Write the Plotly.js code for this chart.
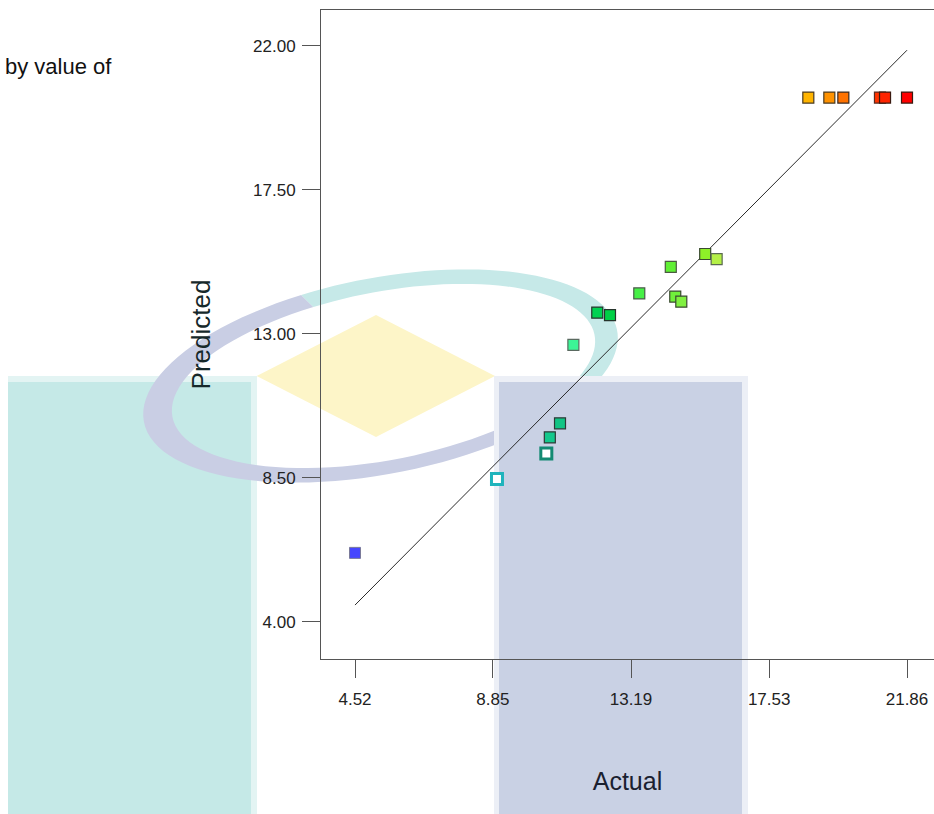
<!DOCTYPE html>
<html>
<head>
<meta charset="utf-8">
<script src="https://cdn.plot.ly/plotly-3.0.1.min.js"></script>
<style>
  html, body { margin: 0; padding: 0; background: #ffffff; }
  #chart { width: 934px; height: 814px; }
</style>
</head>
<body>
<div id="chart"></div>
<script>
// Predicted vs. actual response, points coloured by actual value
const actual    = [4.52, 8.98, 10.53, 10.64, 10.96, 11.38, 12.13, 12.53, 13.45, 14.44,
                   14.58, 14.77, 15.52, 15.88, 18.76, 19.42, 19.86, 21.01, 21.17, 21.86];
const predicted = [6.15, 8.46, 9.26, 9.76, 10.20, 12.65, 13.66, 13.58, 14.26, 15.09,
                   14.16, 14.00, 15.49, 15.33, 20.38, 20.38, 20.38, 20.38, 20.38, 20.38];
const pointFill = ['#4646ff', '#ffffff', '#ffffff', '#14c88c', '#12c484', '#3cf596',
                   '#00d252', '#00d046', '#46f046', '#60f034', '#70f03a', '#80f040',
                   '#8ef028', '#b4f046', '#ffb400', '#ff9200', '#ff7200', '#ff3400',
                   '#ff2400', '#ff0000'];
const pointEdge = ['#7a7a9a', '#1fb4bc', '#138a72', '#2d3a36', '#2d3a36', '#5a6a60',
                   '#26342c', '#26342c', '#4a5a4a', '#4a5a40', '#3a4a30', '#3a4a30',
                   '#3a4a30', '#5a6a50', '#4a3a20', '#4a3a20', '#3a2a20', '#5a2a20',
                   '#3a1a10', '#3a1a10'];
const pointEdgeWidth = [1, 3, 3, 1.2, 1.2, 1.2, 1.2, 1.2, 1.2, 1.2,
                        1.2, 1.2, 1.2, 1.2, 1.2, 1.2, 1.2, 1.2, 1.2, 1.2];

const xTicks = [4.52, 8.85, 13.19, 17.53, 21.86];
const yTicks = [4.00, 8.50, 13.00, 17.50, 22.00];

// page layout in pixels
const W = 934, H = 814;
const M = { l: 321, r: 0, t: 10, b: 155 };
const plotW = W - M.l - M.r, plotH = H - M.t - M.b;
const px = v => (v - M.l) / plotW;          // page x -> paper x
const py = v => (H - M.b - v) / plotH;      // page y -> paper y

// background emblem: two panels, a diamond and an elliptical swoosh
function rectShape(x0, y0, x1, y1, color) {
  return { type: 'rect', xref: 'paper', yref: 'paper', layer: 'below',
           x0: px(x0), x1: px(x1), y0: py(y1), y1: py(y0),
           fillcolor: color, line: { width: 0 } };
}
function pathShape(pts, color) {
  const d = pts.map((p, i) => (i ? 'L' : 'M') + px(p[0]).toFixed(5) + ',' + py(p[1]).toFixed(5)).join(' ') + ' Z';
  return { type: 'path', xref: 'paper', yref: 'paper', layer: 'below',
           path: d, fillcolor: color, line: { width: 0 } };
}
function ringArc(t0, t1, color) {
  const rot = -11 * Math.PI / 180;
  const outer = { cx: 380.5, cy: 376, a: 241, b: 98 };
  const inner = { cx: 383.5, cy: 376, a: 215, b: 84 };
  const pt = (e, t) => [
    e.cx + e.a * Math.cos(t) * Math.cos(rot) - e.b * Math.sin(t) * Math.sin(rot),
    e.cy + e.a * Math.cos(t) * Math.sin(rot) + e.b * Math.sin(t) * Math.cos(rot)
  ];
  const n = 60, pts = [];
  for (let i = 0; i <= n; i++) pts.push(pt(outer, t0 + (t1 - t0) * i / n));
  for (let i = n; i >= 0; i--) pts.push(pt(inner, t0 + (t1 - t0) * i / n));
  return pathShape(pts, color);
}
const deg = Math.PI / 180;
const shapes = [
  rectShape(8, 376, 257, 814, '#e3f4f3'),
  rectShape(8, 382, 251, 814, '#c5e9e7'),
  ringArc(60 * deg, 255 * deg, '#c9cee4'),
  ringArc(255 * deg, 420 * deg, '#c6e9e8'),
  pathShape([[256.7, 376], [376, 315], [495, 376], [376, 437]], '#fdf5c8'),
  rectShape(494, 376, 748, 814, '#eceff6'),
  rectShape(499, 382, 742, 814, '#c9d1e4')
];

const fitLine = {
  x: [Math.min(...actual), Math.max(...actual)],
  y: [Math.min(...actual), Math.max(...actual)],
  mode: 'lines', type: 'scatter', hoverinfo: 'skip',
  line: { color: '#2a2a2a', width: 1 }
};
const points = {
  x: actual, y: predicted, mode: 'markers', type: 'scatter',
  marker: {
    symbol: 'square', size: 11, color: pointFill,
    line: { color: pointEdge, width: pointEdgeWidth }
  }
};

const tickFont = { family: 'Liberation Sans, Arial, sans-serif', size: 17, color: '#222222' };
const layout = {
  width: W, height: H,
  margin: M,
  paper_bgcolor: '#ffffff',
  plot_bgcolor: 'rgba(0,0,0,0)',
  showlegend: false,
  xaxis: {
    range: [3.452, 22.708], autorange: false,
    tickmode: 'array', tickvals: xTicks, ticktext: xTicks.map(v => v.toFixed(2)),
    ticks: 'outside', ticklen: 18, tickwidth: 1, tickcolor: '#555555',
    ticklabelstandoff: 7,
    showline: true, mirror: true, linecolor: '#555555', linewidth: 1,
    showgrid: false, zeroline: false, tickfont: tickFont,
    title: { text: 'Actual', standoff: 64,
             font: { family: 'Liberation Sans, Arial, sans-serif', size: 25, color: '#1a2030' } }
  },
  yaxis: {
    range: [2.834, 23.116], autorange: false,
    tickmode: 'array', tickvals: yTicks, ticktext: yTicks.map(v => v.toFixed(2)),
    ticks: 'outside', ticklen: 18, tickwidth: 1, tickcolor: '#555555',
    ticklabelstandoff: 3,
    showline: true, linecolor: '#555555', linewidth: 1,
    showgrid: false, zeroline: false, tickfont: tickFont,
    title: { text: 'Predicted', standoff: 34,
             font: { family: 'Liberation Sans, Arial, sans-serif', size: 26, color: '#16282a' } }
  },
  shapes: shapes,
  annotations: [{
    text: 'by value of', xref: 'paper', yref: 'paper',
    x: px(3), y: py(67), xanchor: 'left', yanchor: 'middle', showarrow: false,
    font: { family: 'Liberation Sans Narrow, Arial Narrow, Liberation Sans, Arial, sans-serif', size: 22, color: '#111111' }
  }]
};

Plotly.newPlot('chart', [fitLine, points], layout, { displayModeBar: false, staticPlot: true });
</script>
</body>
</html>
